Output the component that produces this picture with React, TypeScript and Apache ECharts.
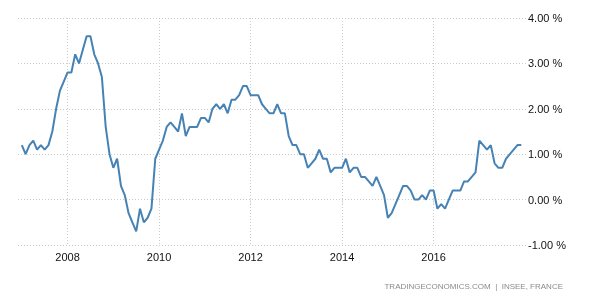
import React, { useEffect, useRef } from "react";
import * as echarts from "echarts";

// Monthly France inflation rate (%), Jan 2007 .. Dec 2017
const startYear = 2007;
const y2007 = [1.2, 1.0, 1.2, 1.3, 1.1, 1.2, 1.1, 1.2, 1.5, 2.0, 2.4, 2.6];
const y2008 = [2.8, 2.8, 3.2, 3.0, 3.3, 3.6, 3.6, 3.2, 3.0, 2.7, 1.6, 1.0];
const y2009 = [0.7, 0.9, 0.3, 0.1, -0.3, -0.5, -0.7, -0.2, -0.5, -0.4, -0.2, 0.9];
const y2010 = [1.1, 1.3, 1.6, 1.7, 1.6, 1.5, 1.9, 1.4, 1.6, 1.6, 1.6, 1.8];
const y2011 = [1.8, 1.7, 2.0, 2.1, 2.0, 2.1, 1.9, 2.2, 2.2, 2.3, 2.5, 2.5];
const y2012 = [2.3, 2.3, 2.3, 2.1, 2.0, 1.9, 1.9, 2.1, 1.9, 1.9, 1.4, 1.2];
const y2013 = [1.2, 1.0, 1.0, 0.7, 0.8, 0.9, 1.1, 0.9, 0.9, 0.6, 0.7, 0.7];
const y2014 = [0.7, 0.9, 0.6, 0.7, 0.7, 0.5, 0.5, 0.4, 0.3, 0.5, 0.3, 0.1];
const y2015 = [-0.4, -0.3, -0.1, 0.1, 0.3, 0.3, 0.2, 0.0, 0.0, 0.1, 0.0, 0.2];
const y2016 = [0.2, -0.2, -0.1, -0.2, 0.0, 0.2, 0.2, 0.2, 0.4, 0.4, 0.5, 0.6];
const y2017 = [1.3, 1.2, 1.1, 1.2, 0.8, 0.7, 0.7, 0.9, 1.0, 1.1, 1.2, 1.2];

const inflation = [
  ...y2007, ...y2008, ...y2009, ...y2010, ...y2011, ...y2012,
  ...y2013, ...y2014, ...y2015, ...y2016, ...y2017,
];

const tickYears = [2008, 2010, 2012, 2014, 2016];
const yTicks = [-1, 0, 1, 2, 3, 4];
const sourceText = "TRADINGECONOMICS.COM  |  INSEE, FRANCE";

export default function App() {
  const ref = useRef<HTMLDivElement>(null);

  useEffect(() => {
    if (!ref.current) return;
    const chart = echarts.init(ref.current, undefined, { renderer: "svg" });
    const data = inflation.map((v, i) => [i, v]);
    const tickIdx = tickYears.map((y) => (y - startYear) * 12);
    const gridStyle = { color: "#cccccc", type: [1, 2] as any, width: 1 };

    chart.setOption({
      animation: false,
      grid: { left: 18, right: 73, top: 18, bottom: 55, containLabel: false },
      xAxis: {
        type: "value",
        min: -1,
        max: inflation.length + 0.5,
        axisLine: { show: false },
        axisTick: {
          show: true,
          length: 4,
          customValues: tickIdx,
          lineStyle: gridStyle,
        },
        axisLabel: {
          customValues: tickIdx,
          formatter: (v: number) => String(startYear + Math.round(v / 12)),
          color: "#111",
          fontSize: 11,
          fontFamily: "Liberation Sans, Arial, sans-serif",
          margin: 6,
        },
        splitLine: { show: true, lineStyle: gridStyle },
      },
      yAxis: {
        type: "value",
        position: "right",
        min: yTicks[0],
        max: yTicks[yTicks.length - 1],
        interval: 1,
        axisLine: { show: false },
        axisTick: { show: false },
        axisLabel: {
          formatter: (v: number) => v.toFixed(2) + " %",
          color: "#111",
          fontSize: 11,
          fontFamily: "Liberation Sans, Arial, sans-serif",
          margin: 1,
          padding: [3, 0, 0, 0],
        },
        splitLine: { show: true, lineStyle: gridStyle },
      },
      graphic: [
        {
          type: "text",
          right: 37,
          top: 282,
          style: {
            text: sourceText,
            fill: "#8a8a8a",
            fontSize: 8,
            fontFamily: "Liberation Sans, Arial, sans-serif",
          },
        },
      ],
      series: [
        {
          type: "line",
          data,
          showSymbol: false,
          symbol: "none",
          lineStyle: { color: "#4682b4", width: 2 },
          z: 3,
        },
      ],
    });
    return () => chart.dispose();
  }, []);

  return (
    <div
      ref={ref}
      style={{ position: "fixed", left: 0, top: 0, width: 600, height: 300 }}
    />
  );
}
